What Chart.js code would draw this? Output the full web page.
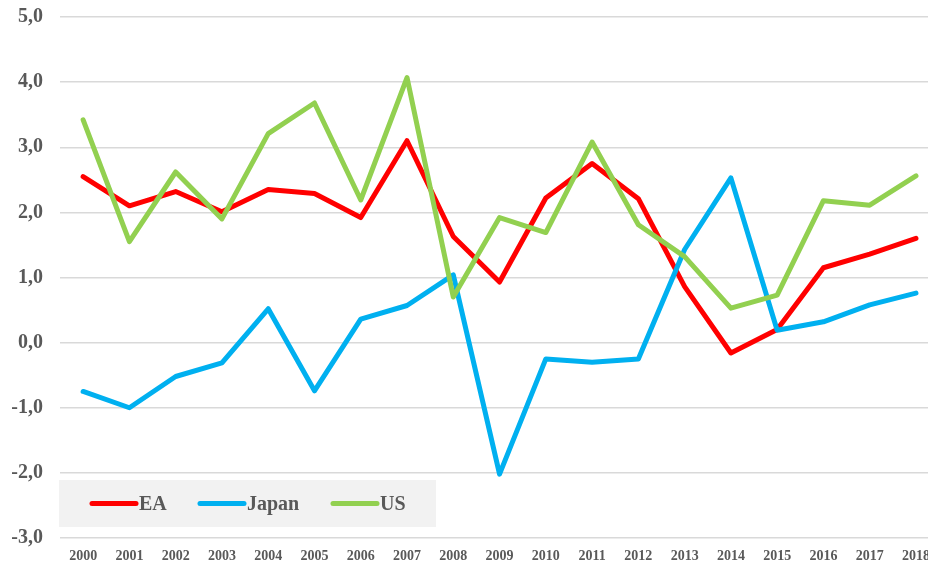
<!DOCTYPE html>
<html>
<head>
<meta charset="utf-8">
<script src="https://cdn.jsdelivr.net/npm/chart.js@4/dist/chart.umd.min.js"></script>
<style>
  html, body { margin: 0; padding: 0; background: #ffffff; }
  #wrap { width: 928px; height: 564px; position: relative; }
</style>
</head>
<body>
<div id="wrap"><canvas id="c" width="928" height="564"></canvas></div>
<script>
const years = [2000,2001,2002,2003,2004,2005,2006,2007,2008,2009,2010,2011,2012,2013,2014,2015,2016,2017,2018];
const ea    = [2.55,2.10,2.32,2.01,2.35,2.29,1.92,3.10,1.63,0.93,2.22,2.75,2.21,0.86,-0.16,0.20,1.15,1.36,1.60];
const japan = [-0.75,-1.00,-0.52,-0.31,0.52,-0.74,0.36,0.57,1.04,-2.02,-0.25,-0.30,-0.25,1.43,2.53,0.19,0.32,0.58,0.76];
const us    = [3.42,1.55,2.62,1.90,3.21,3.68,2.19,4.07,0.70,1.92,1.69,3.08,1.81,1.32,0.53,0.73,2.18,2.11,2.56];
const yTicks = [-3,-2,-1,0,1,2,3,4,5];

const toPts = arr => arr.map((v, i) => ({ x: years[i], y: v }));
const FONT = "'Liberation Serif', 'Times New Roman', serif";
const TXT = '#595959';

const legendBox = {
  id: 'legendBox',
  beforeDatasetsDraw(chart) {
    const ctx = chart.ctx, ca = chart.chartArea;
    const bx = ca.left - 1, by = ca.bottom - 58, bw = 377, bh = 47;
    ctx.save();
    ctx.fillStyle = '#f2f2f2';
    ctx.fillRect(bx, by, bw, bh);
    const cy = by + bh / 2;
    const starts = [bx + 33, bx + 141, bx + 274];
    ctx.font = 'bold 20px ' + FONT;
    ctx.textBaseline = 'middle';
    chart.data.datasets.forEach((ds, i) => {
      const x0 = starts[i];
      ctx.strokeStyle = ds.borderColor;
      ctx.lineWidth = 5;
      ctx.lineCap = 'round';
      ctx.beginPath();
      ctx.moveTo(x0, cy);
      ctx.lineTo(x0 + 44, cy);
      ctx.stroke();
      ctx.fillStyle = TXT;
      ctx.textAlign = 'left';
      ctx.fillText(ds.label, x0 + 47, cy + 1);
    });
    ctx.restore();
  }
};

new Chart(document.getElementById('c'), {
  type: 'line',
  data: {
    datasets: [
      { label: 'EA', data: toPts(ea), borderColor: '#ff0000', order: 2 },
      { label: 'Japan', data: toPts(japan), borderColor: '#00b0f0', order: 1 },
      { label: 'US', data: toPts(us), borderColor: '#92d050', order: 0 }
    ]
  },
  options: {
    responsive: false,
    animation: false,
    devicePixelRatio: 1,
    layout: { padding: { top: 17, right: 0, bottom: 0, left: 0 } },
    elements: {
      line: { borderWidth: 5, tension: 0, borderCapStyle: 'round', borderJoinStyle: 'round', fill: false },
      point: { radius: 0, hoverRadius: 0 }
    },
    plugins: { legend: { display: false }, tooltip: { enabled: false } },
    scales: {
      x: {
        type: 'linear',
        min: 1999.5,
        max: 2018.26,
        afterBuildTicks: s => { s.ticks = years.map(v => ({ value: v })); },
        afterFit: s => { s.height = 26; s.paddingLeft = 0; s.paddingRight = 0; },
        grid: { display: false, drawTicks: false },
        border: { display: false },
        ticks: {
          autoSkip: false,
          maxRotation: 0,
          padding: 10,
          color: TXT,
          font: { family: FONT, size: 14, weight: 'bold' },
          callback: v => String(v)
        }
      },
      y: {
        min: -3,
        max: 5,
        afterBuildTicks: s => { s.ticks = yTicks.map(v => ({ value: v })); },
        afterFit: s => { s.width = 60; s.paddingTop = 0; s.paddingBottom = 0; },
        grid: { color: '#d9d9d9', lineWidth: 1.5, drawTicks: false },
        border: { display: false },
        ticks: {
          padding: 17,
          color: TXT,
          font: { family: FONT, size: 20, weight: 'bold' },
          callback: v => v.toFixed(1).replace('.', ',')
        }
      }
    }
  },
  plugins: [legendBox]
});
</script>
</body>
</html>
